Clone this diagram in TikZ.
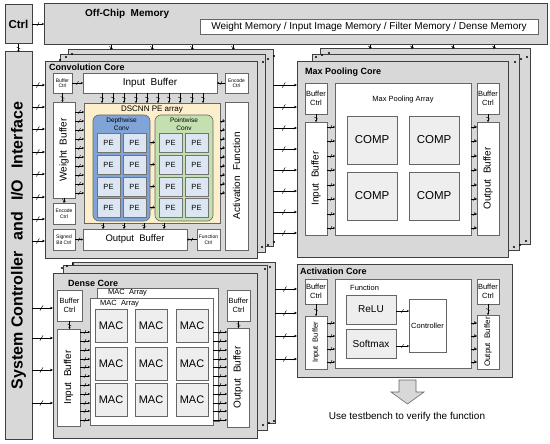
\documentclass[tikz,border=0pt]{standalone}
\usepackage{fontspec}
\setmainfont{Liberation Sans}
\usetikzlibrary{arrows.meta,decorations.markings}

\definecolor{coregray}{RGB}{216,216,216}
\definecolor{boxgray}{RGB}{238,238,238}
\definecolor{dsyellow}{RGB}{253,239,203}
\definecolor{dwblue}{RGB}{128,164,216}
\definecolor{pwgreen}{RGB}{196,224,176}
\definecolor{pefill}{RGB}{220,230,243}

\tikzset{
  corebox/.style={draw=black!75, line width=1pt, fill=coregray, inner sep=0pt, outer sep=0pt, anchor=north west},
  whitebox/.style={draw=black!60, line width=0.6pt, fill=white, inner sep=0pt, outer sep=0pt, anchor=north west, align=center},
  graybox/.style={draw=black!60, line width=0.6pt, fill=boxgray, inner sep=0pt, outer sep=0pt, anchor=north west, align=center},
  pebox/.style={draw=black!55, line width=0.5pt, fill=pefill, inner sep=0pt, outer sep=0pt, anchor=north west, font=\fontsize{7.5}{8}\selectfont},
  title/.style={anchor=west, inner sep=0pt, font=\bfseries\fontsize{9}{10}\selectfont},
  txtxs/.style={font=\fontsize{5}{5.5}\selectfont},
  txts/.style={font=\fontsize{7.5}{8.5}\selectfont},
  txtm/.style={font=\fontsize{10}{11}\selectfont},
  bus/.style={-{Stealth[length=3pt,width=2.6pt]}, line width=0.6pt,
    postaction={decorate, decoration={markings, mark=at position 0.45 with {\draw[-,line width=0.5pt] (-1.5pt,-2.6pt) -- (1.5pt,2.6pt);}}}},
  minibus/.style={-{Stealth[length=2pt,width=2pt]}, line width=0.5pt,
    postaction={decorate, decoration={markings, mark=at position 0.5 with {\draw[-,line width=0.4pt] (-1pt,-1.8pt) -- (1pt,1.8pt);}}}},
}

\begin{document}
\begin{tikzpicture}[x=1pt, y=-1pt]
\useasboundingbox (0,0) rectangle (550,444);

% Control, memory and system controller
\node[corebox, minimum width=27pt, minimum height=39pt, font=\bfseries\fontsize{11.5}{12}\selectfont] (ctrl) at (5,5) {Ctrl};
\node[corebox, minimum width=503pt, minimum height=41pt] (mem) at (44,4) {};
\node[title, font=\bfseries\fontsize{10}{11}\selectfont] (memlbl) at (85,14) {Off-Chip\ \ Memory};
\node[whitebox, minimum width=338pt, minimum height=15pt, txtm] (memlist) at (200,19) {Weight Memory / Input Image Memory / Filter Memory / Dense Memory};
\node[corebox, minimum width=27pt, minimum height=387pt,
  label={[rotate=90, font=\bfseries\fontsize{16}{17}\selectfont]center:System Controller\hspace{11pt}and\hspace{11pt}I/O\hspace{11pt}Interface}] (sys) at (5,52) {};

% Convolution core
\node[corebox, minimum width=205pt, minimum height=196pt] (cv3) at (68,50) {};
\node[corebox, minimum width=205pt, minimum height=197pt] (cv2) at (60,55) {};
\node[corebox, minimum width=212pt, minimum height=196pt] (cv1) at (45,62) {};
\node[title] (cvlbl) at (49,67) {Convolution Core};
\node[whitebox, minimum width=19pt, minimum height=20pt, txtxs] (cvbc) at (53,73) {Buffer\\Ctrl};
\node[whitebox, minimum width=134pt, minimum height=20pt, txtm] (cvib) at (83,73) {Input\ \ Buffer};
\node[whitebox, minimum width=23pt, minimum height=20pt, txtxs] (cvec) at (225,73) {Encode\\Ctrl};
\node[whitebox, minimum width=22pt, minimum height=96pt, label={[rotate=90, txtm]center:Weight\ \ Buffer}] (cvwb) at (53,102) {};
\node[whitebox, minimum width=22pt, minimum height=21pt, txtxs] (cvec2) at (53,203) {Encode\\Ctrl};
\node[whitebox, minimum width=22pt, minimum height=21pt, txtxs] (cvsb) at (53,229) {Signed\\Bit Ctrl};
\node[whitebox, minimum width=104pt, minimum height=21pt, font=\fontsize{9.5}{10}\selectfont] (cvob) at (83,229) {Output\ \ Buffer};
\node[whitebox, minimum width=23pt, minimum height=21pt, txtxs] (cvfc) at (197,229) {Function\\Ctrl};
\node[whitebox, minimum width=23pt, minimum height=148pt, label={[rotate=90, txtm]center:Activation\ \ Function}] (cvaf) at (225,102) {};
\node[whitebox, fill=dsyellow, minimum width=136pt, minimum height=120pt] (cvpe) at (84,103) {};
\node[font=\fontsize{8}{9}\selectfont] (cvpelbl) at (152,110) {DSCNN PE array};
\node[whitebox, fill=dwblue, rounded corners=6pt, minimum width=57pt, minimum height=106pt] (cvdw) at (93,115) {};
\node[whitebox, fill=pwgreen, rounded corners=6pt, minimum width=58pt, minimum height=106pt] (cvpw) at (155,115) {};
\node[align=center, font=\fontsize{6.5}{7.5}\selectfont] (cvdwlbl) at (121.5,124) {Depthwise\\Conv};
\node[align=center, font=\fontsize{6.5}{7.5}\selectfont] (cvpwlbl) at (184,124) {Pointwise\\Conv};
\foreach \r/\y in {0/133,1/155,2/177,3/198} {
  \foreach \c/\x in {0/97,1/123,2/159,3/185} {
    \node[pebox, minimum width=23pt, minimum height=19pt] (pe-\r-\c) at (\x,\y) {PE};
  }
}

% Convolution core wiring
\draw[minibus] (cvbc.east) -- (cvib.west);
\draw[minibus] (cvec.west) -- (cvib.east);
\draw[minibus] (cvbc.south) -- (cvwb.north -| cvbc.south);
\draw[minibus] (cvwb.south) -- (cvec2.north);
\draw[minibus] (cvsb.east) -- (cvob.west);
\draw[minibus] (cvfc.west) -- (cvob.east);
\foreach \x in {102,113,124,136,147,158,169,180,192,203}
  \draw[minibus] (cvib.south -| \x,0) -- (cvpe.north -| \x,0);
\foreach \y in {112,121,130,139,148,157,166,175,184,193}
  \draw[minibus] (cvwb.east |- 0,\y) -- (cvpe.west |- 0,\y);
\foreach \y in {121,130,139,148,157,166,175,184,193}
  \draw[minibus] (cvpe.east |- 0,\y) -- (cvaf.west |- 0,\y);
\foreach \r in {0,...,3}
  \draw[minibus] (cvdw.east |- pe-\r-1.center) -- (cvpw.west |- pe-\r-1.center);
\foreach \x in {103,124,144,164}
  \draw[minibus] (cvpe.south -| \x,0) -- (cvob.north -| \x,0);

% Max pooling core
\node[corebox, minimum width=210pt, minimum height=195pt] (mp3) at (320,49) {};
\node[corebox, minimum width=207pt, minimum height=195pt] (mp2) at (312,55) {};
\node[corebox, minimum width=211pt, minimum height=195pt] (mp1) at (297,62) {};
\node[title] (mplbl) at (305,72) {Max Pooling Core};
\node[whitebox, minimum width=22pt, minimum height=31pt, txts] (mpbc1) at (305,83) {Buffer\\Ctrl};
\node[whitebox, minimum width=22pt, minimum height=113pt, label={[rotate=90, txtm]center:Input\ \ Buffer}] (mpib) at (305,122) {};
\node[whitebox, minimum width=136pt, minimum height=152pt] (mpa) at (335,83) {};
\node[txts] (mpalbl) at (403,100) {Max Pooling Array};
\foreach \r/\y in {0/116,1/172} {
  \foreach \c/\x in {0/347,1/409} {
    \node[graybox, minimum width=50pt, minimum height=48pt, font=\fontsize{11.5}{12}\selectfont] (comp-\r-\c) at (\x,\y) {COMP};
  }
}
\node[whitebox, minimum width=22pt, minimum height=31pt, txts] (mpbc2) at (477,83) {Buffer\\Ctrl};
\node[whitebox, minimum width=22pt, minimum height=113pt, label={[rotate=90, txtm]center:Output\ \ Buffer}] (mpob) at (477,122) {};
\draw[minibus] (mpbc1.south) -- (mpib.north);
\draw[minibus] (mpbc2.south) -- (mpob.north);
\foreach \y in {127,141,156,170,185,199,214,228} {
  \draw[minibus] (mpib.east |- 0,\y) -- (mpa.west |- 0,\y);
  \draw[minibus] (mpa.east |- 0,\y) -- (mpob.west |- 0,\y);
}

% Dense core
\node[corebox, minimum width=203pt, minimum height=161pt] (dn3) at (72,262) {};
\node[corebox, minimum width=204pt, minimum height=165pt] (dn2) at (63,265) {};
\node[corebox, minimum width=204pt, minimum height=165pt] (dn1) at (53,273) {};
\node[title] (dnlbl) at (68,283) {Dense Core};
\node[whitebox, minimum width=25pt, minimum height=31pt, txts] (dnbc1) at (57,290) {Buffer\\Ctrl};
\node[whitebox, minimum width=23pt, minimum height=97pt, label={[rotate=90, txtm]center:Input\ \ Buffer}] (dnib) at (57,329) {};
\node[whitebox, minimum width=121pt, minimum height=133pt] (dnma2) at (97,288) {};
\node[txts, anchor=west, inner sep=0pt] (dnma2lbl) at (108,293) {MAC\ \ Array};
\node[whitebox, minimum width=123pt, minimum height=127pt] (dnma1) at (90,298) {};
\node[txts, anchor=west, inner sep=0pt] (dnma1lbl) at (100,304) {MAC\ \ Array};
\foreach \r/\y in {0/309,1/347,2/383} {
  \foreach \c/\x in {0/95,1/135,2/176} {
    \node[graybox, minimum width=32pt, minimum height=33pt, font=\fontsize{11}{12}\selectfont] (mac-\r-\c) at (\x,\y) {MAC};
  }
}
\node[whitebox, minimum width=23pt, minimum height=31pt, txts] (dnbc2) at (227,290) {Buffer\\Ctrl};
\node[whitebox, minimum width=22pt, minimum height=99pt, label={[rotate=90, txtm]center:Output\ \ Buffer}] (dnob) at (227,328) {};
\draw[minibus] (dnbc1.south) -- (dnib.north -| dnbc1.south);
\draw[minibus] (dnbc2.south) -- (dnob.north -| dnbc2.south);
\foreach \y in {332,341,350,359,367,376,385,394,403,411,420} {
  \draw[minibus] (dnib.east |- 0,\y) -- (dnma1.west |- 0,\y);
  \draw[minibus] (dnma1.east |- 0,\y) -- (dnob.west |- 0,\y);
}

% Activation core
\node[corebox, minimum width=215pt, minimum height=113pt] (ac) at (297,264) {};
\node[title] (aclbl) at (300,271) {Activation Core};
\node[whitebox, minimum width=22pt, minimum height=25pt, txts] (acbc1) at (305,279) {Buffer\\Ctrl};
\node[whitebox, minimum width=22pt, minimum height=53pt, label={[rotate=90, txts]center:Input\ \ Buffer}] (acib) at (305,316) {};
\node[whitebox, minimum width=136pt, minimum height=89pt] (acfn) at (335,279) {};
\node[txts, anchor=west, inner sep=0pt] (acfnlbl) at (350,288) {Function};
\node[graybox, minimum width=50pt, minimum height=29pt, txtm] (relu) at (346,295) {ReLU};
\node[graybox, minimum width=50pt, minimum height=29pt, txtm] (softmax) at (346,329) {Softmax};
\node[whitebox, minimum width=37pt, minimum height=53pt, txts] (acctl) at (409,299) {Controller};
\node[whitebox, minimum width=22pt, minimum height=25pt, txts] (acbc2) at (477,279) {Buffer\\Ctrl};
\node[whitebox, minimum width=22pt, minimum height=54pt, label={[rotate=90, font=\fontsize{8}{9}\selectfont]center:Output\ \ Buffer}] (acob) at (477,315) {};
\draw[minibus] (acbc1.south) -- (acib.north);
\draw[minibus] (acbc2.south) -- (acob.north);
\draw[minibus] (relu.east |- 0,311) -- (acctl.west |- 0,311);
\draw[minibus] (softmax.east |- 0,346) -- (acctl.west |- 0,346);
\foreach \y in {323,336,349,362} {
  \draw[minibus] (acib.east |- 0,\y) -- (acfn.west |- 0,\y);
  \draw[minibus] (acfn.east |- 0,\y) -- (acob.west |- 0,\y);
}

% Stack dots
\foreach \p in {(60,60),(66,57),(72,54),(263,62),(268,59),(274,56),(262,247),(268,245),(274,242),
  (316,57),(322,55),(329,53),(515,62),(521,59),(527,57),(514,247),(520,245),(526,241),
  (62,268),(67,266),(73,264),(265,269),(270,267),(263,425),(269,423),(274,421)}
  \fill[black] \p circle (1.1pt);

% Buses between blocks
\draw[minibus] (ctrl.east |- 0,24) -- (mem.west |- 0,24);
\draw[minibus] (ctrl.south |- 0,44) -- (sys.north -| ctrl.south);
\foreach \x in {111,152,192,233}
  \draw[minibus] (mem.south -| \x,0) -- (cv3.north -| \x,0);
\foreach \x in {370,412,453,494}
  \draw[minibus] (mem.south -| \x,0) -- (mp3.north -| \x,0);
\foreach \y in {85,107,129,152,174,197,219,241}
  \draw[bus] (sys.east |- 0,\y) -- (cv1.west |- 0,\y);
\foreach \y in {85,107,128,149,170,191,212,233}
  \draw[bus] (cv3.east |- 0,\y) -- (mp1.west |- 0,\y);
\foreach \y in {308,338,370,403}
  \draw[bus] (sys.east |- 0,\y) -- (dn1.west |- 0,\y);
\foreach \y in {289,313,336,359}
  \draw[bus] (dn3.east |- 0,\y) -- (ac.west |- 0,\y);

% Result
\draw[draw=black!60, line width=0.6pt, fill=coregray] (399,380) -- (416,380) -- (416,392) -- (424,392) -- (407.5,404) -- (391,392) -- (399,392) -- cycle;
\node[txtm] (tbtext) at (407,417) {Use testbench to verify the function};

\end{tikzpicture}
\end{document}
